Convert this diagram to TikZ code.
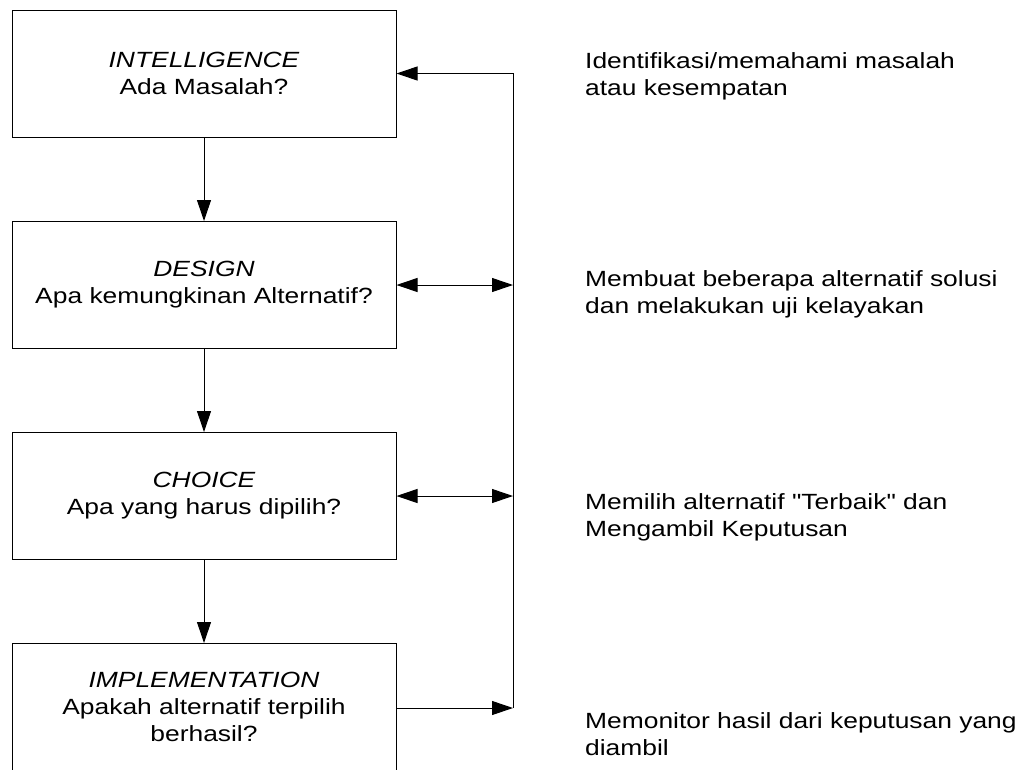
\documentclass[tikz,border=0pt]{standalone}
\usepackage{fontspec}
\setmainfont[FakeStretch=1.2,Ligatures=TeXOff]{Liberation Sans}
\usetikzlibrary{arrows.meta}
\begin{document}
\begin{tikzpicture}[x=1pt,y=-1pt,
  every node/.style={font=\fontsize{22}{27}\selectfont},
  phase/.style={draw=black, line width=1pt, minimum width=384pt, minimum height=127pt,
    align=center, inner sep=0pt},
  note/.style={anchor=base west, align=left, inner sep=0pt},
  link/.style={draw=black, line width=1pt},
  tip/.style={-{Triangle[length=21pt,width=14pt]}},
  tips/.style={{Triangle[length=21pt,width=14pt]}-{Triangle[length=21pt,width=14pt]}}]
\useasboundingbox (0,0) rectangle (1024,769);

% decision phases
\node[phase] (int) at (204,73.5) {\itshape INTELLIGENCE\\Ada Masalah?};
\node[phase] (des) at (204,285) {\itshape DESIGN\\Apa kemungkinan Alternatif?};
\node[phase] (cho) at (204,496) {\itshape CHOICE\\Apa yang harus dipilih?};
\node[phase] (imp) at (204,707) {\itshape IMPLEMENTATION\\Apakah alternatif terpilih\\berhasil?};

% feedback rail
\coordinate (rdes) at (513,285);
\coordinate (rcho) at (513,496);
\coordinate (rimp) at (513,708);

% forward flow
\draw[link,tip] (int) -- (des);
\draw[link,tip] (des) -- (cho);
\draw[link,tip] (cho) -- (imp);

% feedback
\draw[link,tip] (imp.east |- rimp) -- (rimp);
\draw[link,tip] (rimp) |- (int.east);
\draw[link,tips] (des.east) -- (rdes);
\draw[link,tips] (cho.east) -- (rcho);

% descriptions (anchored at the baseline of the last line)
\node[note] (n1) at (585,95) {Identifikasi/memahami masalah\\atau kesempatan};
\node[note] (n2) at (585,313) {Membuat beberapa alternatif solusi\\dan melakukan uji kelayakan};
\node[note] (n3) at (585,536) {Memilih alternatif "Terbaik" dan\\Mengambil Keputusan};
\node[note] (n4) at (585,755) {Memonitor hasil dari keputusan yang\\diambil};
\end{tikzpicture}
\end{document}
